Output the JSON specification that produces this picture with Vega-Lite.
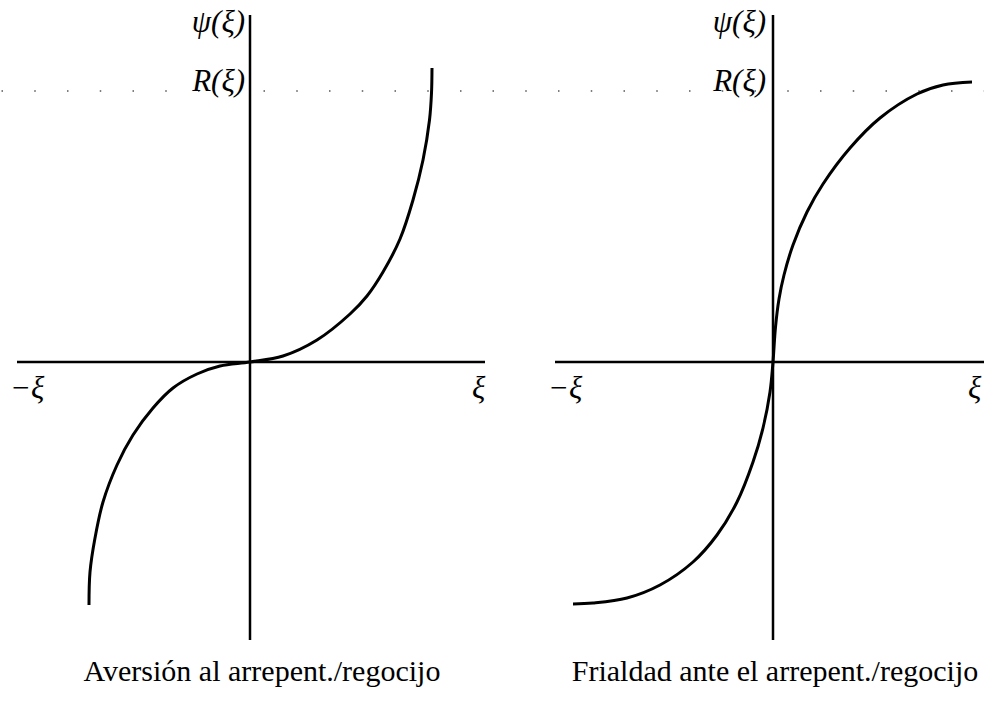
{
  "$schema": "https://vega.github.io/schema/vega-lite/v6.json",
  "background": "white",
  "padding": 0,
  "spacing": 0,
  "bounds": "flush",
  "config": {
    "view": {"stroke": null},
    "title": {"font": "Liberation Serif", "fontSize": 30, "fontWeight": "normal", "color": "black", "orient": "bottom", "anchor": "middle"},
    "text": {"font": "Liberation Serif", "fontSize": 31, "fontStyle": "italic", "color": "black"}
  },
  "hconcat": [
    {
      "width": 490,
      "height": 650,
      "title": {"text": "Aversión al arrepent./regocijo", "dx": 17, "offset": 7},
      "layer": [
        {
          "data": {"values": [{"x": -2.485, "x2": 2.4, "y": 2.71}]},
          "mark": {"type": "rule", "stroke": "#555", "strokeWidth": 1.5, "strokeDash": [1.5, 31.25]},
          "encoding": {
            "x": {"field": "x", "type": "quantitative", "scale": {"domain": [-2.5, 2.4], "nice": false, "zero": false}, "axis": null},
            "x2": {"field": "x2"},
            "y": {"field": "y", "type": "quantitative", "scale": {"domain": [-2.88, 3.62], "nice": false, "zero": false}, "axis": null}
          }
        },
        {
          "data": {"values": [
            {"x": -2.33, "x2": 2.35, "y": 0, "y2": 0},
            {"x": 0, "x2": 0, "y": -2.78, "y2": 3.47}
          ]},
          "mark": {"type": "rule", "stroke": "black", "strokeWidth": 2.5},
          "encoding": {
            "x": {"field": "x", "type": "quantitative", "scale": {"domain": [-2.5, 2.4], "nice": false, "zero": false}, "axis": null},
            "x2": {"field": "x2"},
            "y": {"field": "y", "type": "quantitative", "scale": {"domain": [-2.88, 3.62], "nice": false, "zero": false}, "axis": null},
            "y2": {"field": "y2"}
          }
        },
        {
          "data": {"values": [
            {"x": -1.61, "y": -2.43}, {"x": -1.6, "y": -2.1}, {"x": -1.55, "y": -1.76},
            {"x": -1.47, "y": -1.4}, {"x": -1.33, "y": -1.03}, {"x": -1.17, "y": -0.73},
            {"x": -0.97, "y": -0.46}, {"x": -0.77, "y": -0.26}, {"x": -0.53, "y": -0.12},
            {"x": -0.3, "y": -0.04}, {"x": 0, "y": 0}, {"x": 0.33, "y": 0.06},
            {"x": 0.67, "y": 0.22}, {"x": 1.0, "y": 0.48}, {"x": 1.17, "y": 0.66},
            {"x": 1.33, "y": 0.9}, {"x": 1.5, "y": 1.23}, {"x": 1.63, "y": 1.62},
            {"x": 1.73, "y": 2.02}, {"x": 1.795, "y": 2.42}, {"x": 1.815, "y": 2.69},
            {"x": 1.82, "y": 2.94}
          ]},
          "mark": {"type": "line", "stroke": "black", "strokeWidth": 3, "interpolate": "catmull-rom"},
          "encoding": {
            "x": {"field": "x", "type": "quantitative", "scale": {"domain": [-2.5, 2.4], "nice": false, "zero": false}, "axis": null},
            "y": {"field": "y", "type": "quantitative", "scale": {"domain": [-2.88, 3.62], "nice": false, "zero": false}, "axis": null}
          }
        },
        {
          "data": {"values": [
            {"x": -0.05, "y": 3.39, "label": "ψ(ξ)"},
            {"x": -0.05, "y": 2.8, "label": "R(ξ)"}
          ]},
          "mark": {"type": "text", "align": "right", "baseline": "middle"},
          "encoding": {
            "x": {"field": "x", "type": "quantitative", "scale": {"domain": [-2.5, 2.4], "nice": false, "zero": false}, "axis": null},
            "y": {"field": "y", "type": "quantitative", "scale": {"domain": [-2.88, 3.62], "nice": false, "zero": false}, "axis": null},
            "text": {"field": "label"}
          }
        },
        {
          "data": {"values": [
            {"x": -2.4, "y": -0.27, "label": "−ξ"},
            {"x": 2.22, "y": -0.27, "label": "ξ"}
          ]},
          "mark": {"type": "text", "align": "left", "baseline": "middle"},
          "encoding": {
            "x": {"field": "x", "type": "quantitative", "scale": {"domain": [-2.5, 2.4], "nice": false, "zero": false}, "axis": null},
            "y": {"field": "y", "type": "quantitative", "scale": {"domain": [-2.88, 3.62], "nice": false, "zero": false}, "axis": null},
            "text": {"field": "label"}
          }
        }
      ]
    },
    {
      "width": 494,
      "height": 650,
      "title": {"text": "Frialdad ante el arrepent./regocijo", "dx": 38, "offset": 7},
      "layer": [
        {
          "data": {"values": [{"x": -2.805, "x2": 2.11, "y": 2.71}]},
          "mark": {"type": "rule", "stroke": "#555", "strokeWidth": 1.5, "strokeDash": [1.5, 31.25]},
          "encoding": {
            "x": {"field": "x", "type": "quantitative", "scale": {"domain": [-2.83, 2.11], "nice": false, "zero": false}, "axis": null},
            "x2": {"field": "x2"},
            "y": {"field": "y", "type": "quantitative", "scale": {"domain": [-2.88, 3.62], "nice": false, "zero": false}, "axis": null}
          }
        },
        {
          "data": {"values": [
            {"x": -2.18, "x2": 2.11, "y": 0, "y2": 0},
            {"x": 0, "x2": 0, "y": -2.78, "y2": 3.47}
          ]},
          "mark": {"type": "rule", "stroke": "black", "strokeWidth": 2.5},
          "encoding": {
            "x": {"field": "x", "type": "quantitative", "scale": {"domain": [-2.83, 2.11], "nice": false, "zero": false}, "axis": null},
            "x2": {"field": "x2"},
            "y": {"field": "y", "type": "quantitative", "scale": {"domain": [-2.88, 3.62], "nice": false, "zero": false}, "axis": null},
            "y2": {"field": "y2"}
          }
        },
        {
          "data": {"values": [
            {"x": -2.0, "y": -2.42}, {"x": -1.8, "y": -2.41}, {"x": -1.46, "y": -2.36},
            {"x": -1.13, "y": -2.23}, {"x": -0.8, "y": -2.0}, {"x": -0.56, "y": -1.73},
            {"x": -0.36, "y": -1.4}, {"x": -0.2, "y": -1.0}, {"x": -0.1, "y": -0.66},
            {"x": -0.03, "y": -0.3}, {"x": 0, "y": 0}, {"x": 0.025, "y": 0.35},
            {"x": 0.06, "y": 0.63}, {"x": 0.11, "y": 0.87}, {"x": 0.2, "y": 1.17},
            {"x": 0.34, "y": 1.5}, {"x": 0.5, "y": 1.78}, {"x": 0.77, "y": 2.14},
            {"x": 1.07, "y": 2.44}, {"x": 1.44, "y": 2.68}, {"x": 1.7, "y": 2.77},
            {"x": 1.99, "y": 2.8}
          ]},
          "mark": {"type": "line", "stroke": "black", "strokeWidth": 3, "interpolate": "catmull-rom"},
          "encoding": {
            "x": {"field": "x", "type": "quantitative", "scale": {"domain": [-2.83, 2.11], "nice": false, "zero": false}, "axis": null},
            "y": {"field": "y", "type": "quantitative", "scale": {"domain": [-2.88, 3.62], "nice": false, "zero": false}, "axis": null}
          }
        },
        {
          "data": {"values": [
            {"x": -0.07, "y": 3.39, "label": "ψ(ξ)"},
            {"x": -0.07, "y": 2.8, "label": "R(ξ)"}
          ]},
          "mark": {"type": "text", "align": "right", "baseline": "middle"},
          "encoding": {
            "x": {"field": "x", "type": "quantitative", "scale": {"domain": [-2.83, 2.11], "nice": false, "zero": false}, "axis": null},
            "y": {"field": "y", "type": "quantitative", "scale": {"domain": [-2.88, 3.62], "nice": false, "zero": false}, "axis": null},
            "text": {"field": "label"}
          }
        },
        {
          "data": {"values": [
            {"x": -2.25, "y": -0.27, "label": "−ξ"},
            {"x": 1.95, "y": -0.27, "label": "ξ"}
          ]},
          "mark": {"type": "text", "align": "left", "baseline": "middle"},
          "encoding": {
            "x": {"field": "x", "type": "quantitative", "scale": {"domain": [-2.83, 2.11], "nice": false, "zero": false}, "axis": null},
            "y": {"field": "y", "type": "quantitative", "scale": {"domain": [-2.88, 3.62], "nice": false, "zero": false}, "axis": null},
            "text": {"field": "label"}
          }
        }
      ]
    }
  ]
}
